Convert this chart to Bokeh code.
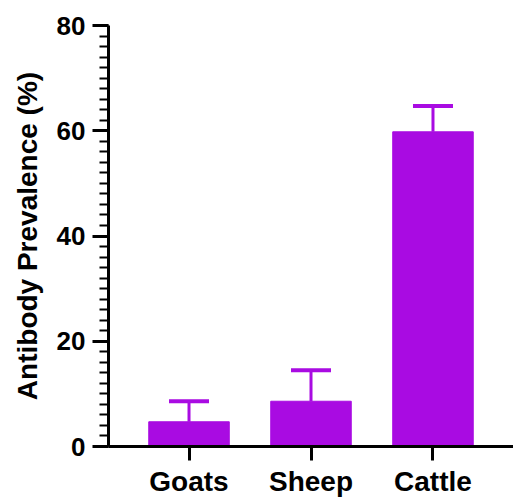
from bokeh.plotting import figure
from bokeh.models import FactorRange, Range1d, SingleIntervalTicker, ColumnDataSource, Whisker, TeeHead
from bokeh.embed import file_html
from bokeh.resources import INLINE

categories = ["Goats", "Sheep", "Cattle"]
prevalence = [4.7, 8.6, 59.8]
error_up = [3.9, 5.9, 4.9]

PURPLE = "#A90BE2"
FONT = "Liberation Sans"

upper = [v + e for v, e in zip(prevalence, error_up)]
src = ColumnDataSource(dict(cat=categories, val=prevalence, upper=upper))

p = figure(
    width=513, height=499,
    x_range=FactorRange(factors=categories, range_padding=0.16, range_padding_units="absolute"),
    y_range=Range1d(0, 80),
    output_backend="svg", toolbar_location=None,
    min_border_left=108, min_border_right=0, min_border_top=25, min_border_bottom=52,
)
p.outline_line_color = None
p.xgrid.visible = False
p.ygrid.visible = False

w = Whisker(source=src, base="cat", lower="val", upper="upper",
            line_color=PURPLE, line_width=3, lower_head=None,
            upper_head=TeeHead(size=40, line_color=PURPLE, line_width=4))
p.add_layout(w)
p.vbar(x="cat", top="val", width=0.66, source=src, fill_color=PURPLE, line_color=PURPLE)

# y axis
p.yaxis.ticker = SingleIntervalTicker(interval=20, num_minor_ticks=10)
p.yaxis.axis_label = "Antibody Prevalence (%)"
p.yaxis.axis_label_text_font = FONT
p.yaxis.axis_label_text_font_style = "bold"
p.yaxis.axis_label_text_font_size = "28px"
p.yaxis.axis_label_text_color = "black"
p.yaxis.axis_label_standoff = 11
p.yaxis.major_label_text_font = FONT
p.yaxis.major_label_text_font_style = "bold"
p.yaxis.major_label_text_font_size = "26px"
p.yaxis.major_label_text_color = "black"
p.yaxis.major_label_standoff = 7
p.yaxis.axis_line_width = 3
p.yaxis.major_tick_line_width = 3
p.yaxis.minor_tick_line_width = 2
p.yaxis.major_tick_in = 0
p.yaxis.major_tick_out = 16
p.yaxis.minor_tick_in = 0
p.yaxis.minor_tick_out = 9

# x axis
p.xaxis.major_label_text_font = FONT
p.xaxis.major_label_text_font_style = "bold"
p.xaxis.major_label_text_font_size = "28px"
p.xaxis.major_label_text_color = "black"
p.xaxis.major_label_standoff = 5
p.xaxis.axis_line_width = 3
p.xaxis.major_tick_line_width = 3
p.xaxis.major_tick_in = 0
p.xaxis.major_tick_out = 14
p.xaxis.minor_tick_line_color = None

open("out.html", "w").write(file_html(p, INLINE))
